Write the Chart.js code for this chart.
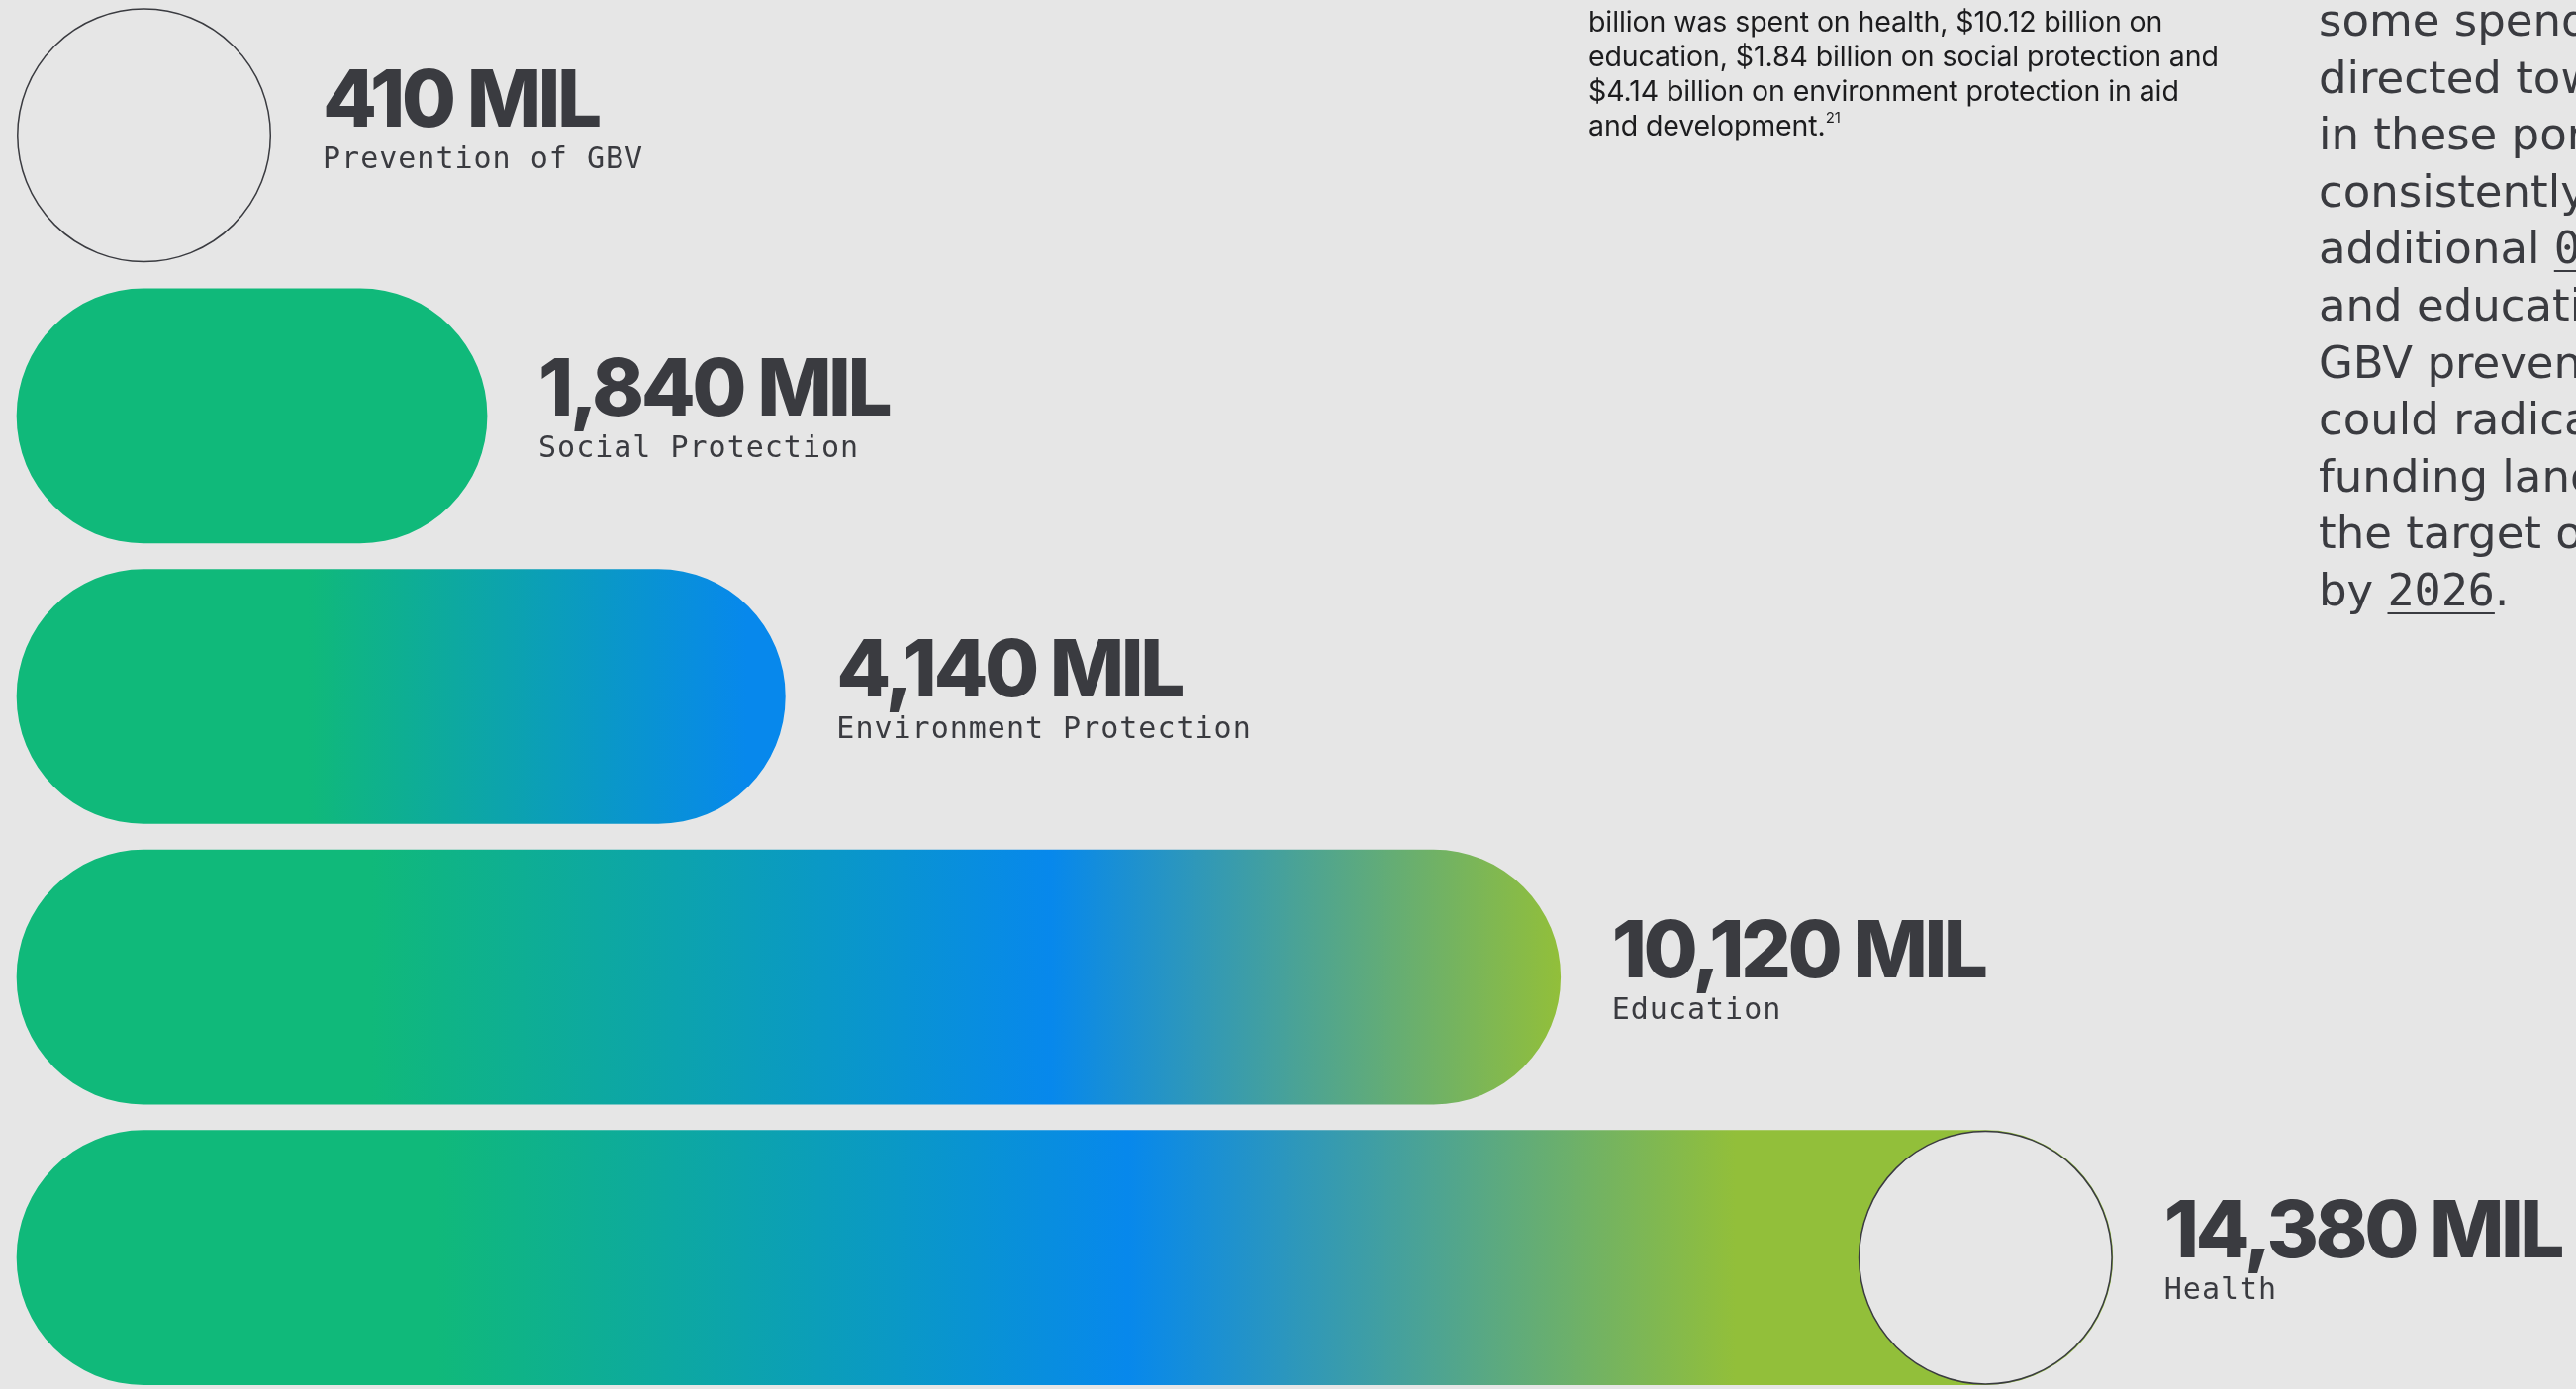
<!DOCTYPE html>
<html>
<head>
<meta charset="utf-8">
<script src="https://cdn.jsdelivr.net/npm/chart.js@4.4.1/dist/chart.umd.min.js"></script>
<style>
  html, body { margin: 0; padding: 0; background: #e6e6e6; overflow: hidden; width: 2603px; height: 1404px; }
  #bars { position: absolute; left: 0; top: -5px; }
  .note { position: absolute; left: 1605px; top: 4px; font-family: Inter, sans-serif; font-size: 28.5px; line-height: 35px; color: #1c1c1e; white-space: nowrap; letter-spacing: -0.1px; }
  .note sup { font-size: 15px; line-height: 0; vertical-align: 13px; }
  .side { position: absolute; left: 2343px; top: -8px; font-family: "DejaVu Sans", sans-serif; font-size: 45px; line-height: 57.6px; color: #3a3b40; white-space: nowrap; }
  .side .num { font-family: "DejaVu Sans Mono", monospace; text-decoration: underline; text-decoration-thickness: 2px; text-underline-offset: 7px; }
</style>
</head>
<body>
<canvas id="bars" width="2603" height="1418"></canvas>

<div class="note">
billion was spent on health, $10.12 billion on<br>
education, $1.84 billion on social protection and<br>
$4.14 billion on environment protection in aid<br>
and development.<sup>21</sup>
</div>

<div class="side">
some spending<br>
directed towards<br>
in these portfolios<br>
consistently<br>
additional <span class="num">0</span><br>
and education<br>
GBV prevention<br>
could radically<br>
funding landscape<br>
the target of<br>
by <span class="num">2026</span>.
</div>

<script>
const categories = ['Prevention of GBV', 'Social Protection', 'Environment Protection', 'Education', 'Health'];
const spending = [410, 1840, 4140, 10120, 14380];
const unit = 'MIL';

// value axis range, picked so the bars sit where the poster has them
const X_MIN = -1916;
const X_MAX = 17954;
const BAR_BASE = -1786;

const INK = '#3a3b40';
const PAPER = '#e6e6e6';
const GREEN = '#10b97a';
const BLUE = '#0788ec';
const LIME = '#92bf3a';

// colour fade along each bar, as fractions of that bar's length
const fades = [
    [[0, GREEN], [1, GREEN]],
    [[0, GREEN], [1, GREEN]],
    [[0, GREEN], [0.38, GREEN], [0.95, BLUE], [1, BLUE]],
    [[0, GREEN], [0.23, GREEN], [0.67, BLUE], [1, LIME]],
    [[0, GREEN], [0.2, GREEN], [0.53, BLUE], [0.82, LIME], [1, LIME]]
];

function barFill(context) {
    const i = context.dataIndex;
    if (i === 0) return 'rgba(0,0,0,0)';
    const x = context.chart.scales.x;
    const start = x.getPixelForValue(BAR_BASE);
    const end = x.getPixelForValue(spending[i]);
    const g = context.chart.ctx.createLinearGradient(start, 0, end, 0);
    fades[i].forEach(function (s) { g.addColorStop(s[0], s[1]); });
    return g;
}

// outlined circles on the first and last bar + value / category text
const ringsAndLabels = {
    id: 'ringsAndLabels',
    afterDatasetsDraw(chart) {
        const c = chart.ctx;
        const meta = chart.getDatasetMeta(0);
        const last = meta.data.length - 1;
        meta.data.forEach(function (bar, i) {
            const r = bar.height / 2;
            let right = bar.x;
            if (i === 0 || i === last) {
                const cx = i === 0 ? bar.base + r : bar.x - r;
                c.save();
                c.beginPath();
                c.arc(cx, bar.y, r - 0.75, 0, Math.PI * 2);
                c.fillStyle = PAPER;
                c.fill();
                c.lineWidth = 1.5;
                c.strokeStyle = INK;
                c.stroke();
                c.restore();
                right = cx + r;
            }
            const tx = right + 52;
            const ty = i === 0 ? bar.y - 9 : bar.y;
            c.save();
            c.fillStyle = INK;
            c.textBaseline = 'alphabetic';
            c.textAlign = 'left';
            c.font = '800 80px Inter';
            c.letterSpacing = '-3.5px';
            c.fillText(spending[i].toLocaleString('en-US') + ' ' + unit, tx, ty);
            c.font = '30px "DejaVu Sans Mono"';
            c.letterSpacing = '1px';
            c.fillText(categories[i], tx, ty + 42);
            c.restore();
        });
    }
};

var ctx = document.getElementById('bars').getContext('2d');
var spendChart = new Chart(ctx, {
    type: 'bar',
    data: {
        labels: categories,
        datasets: [{
            label: 'Spending',
            data: spending,
            base: BAR_BASE,
            backgroundColor: barFill,
            borderWidth: 0,
            borderSkipped: false,
            borderRadius: 200,
            barThickness: 257
        }]
    },
    options: {
        indexAxis: 'y',
        responsive: false,
        animation: false,
        layout: { padding: 0 },
        scales: {
            x: { type: 'linear', min: X_MIN, max: X_MAX, display: false },
            y: { display: false }
        },
        plugins: {
            legend: { display: false },
            tooltip: { enabled: false }
        }
    },
    plugins: [ringsAndLabels]
});
</script>
</body>
</html>
